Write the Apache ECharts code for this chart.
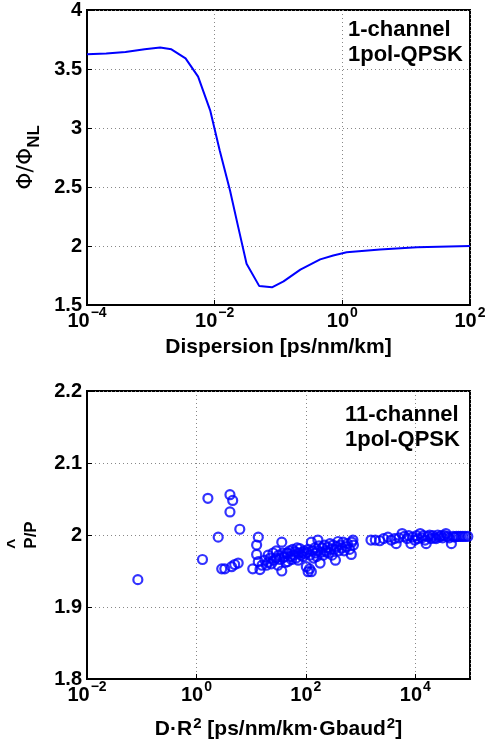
<!DOCTYPE html>
<html>
<head>
<meta charset="utf-8">
<script src="https://cdn.jsdelivr.net/npm/echarts@6/dist/echarts.min.js"></script>
<style>
html,body{margin:0;padding:0;background:#fff;}
#chart{width:495px;height:744px;}
</style>
</head>
<body>
<div id="chart"></div>
<script>
// ---- Top panel: Phi/Phi_NL vs dispersion ----
const dispersion = [0.0001, 0.0002, 0.0004, 0.0008, 0.0014, 0.0021, 0.0035, 0.0055, 0.0085, 0.012, 0.0174, 0.0234, 0.0316, 0.05, 0.079, 0.12, 0.22, 0.45, 0.72, 1.17, 3.9, 14.8, 100];
const phiRatio   = [3.625, 3.632, 3.645, 3.668, 3.683, 3.667, 3.59, 3.435, 3.15, 2.81, 2.47, 2.16, 1.85, 1.66, 1.65, 1.70, 1.80, 1.887, 1.92, 1.947, 1.97, 1.99, 2.0];

// ---- Bottom panel: P^/P vs D*R^2 ----
const drSquared = [
  0.085, 1.29, 1.62, 2.5, 2.9, 3.3, 4.4, 5.0, 5.8, 4.1, 4.6, 4.1, 6.2,
  10.7, 12.6, 12.6, 13.5, 13.5, 14.5, 15.8, 17.8, 19, 20.4, 20.4, 22.4, 23.4, 25.1, 26.3, 28.8, 28.8, 30.9,
  31.6, 33.9, 36.3, 36.3, 38, 39.8, 40.7, 42.7, 44.7, 46.8, 46.8, 50.1, 52.5, 55, 57.5, 60.3, 63.1, 66.1,
  69.2, 72.4, 74.1, 77.6, 81.3, 85.1, 89.1, 93.3, 97.7, 102, 105, 110, 110, 117, 120, 126, 126, 132, 138,
  145, 151, 158, 166, 166, 174, 182, 191, 200, 209, 219, 229, 240, 251, 263, 275, 288, 302, 316, 331, 347,
  363, 389, 398, 427, 457, 479, 501, 550, 575, 631, 676, 692, 724, 741,
  1550, 1860, 2240, 2630, 3160, 3630, 4170, 4470, 5010, 5750, 6310, 7080, 7590, 8320, 8910, 9770,
  10500, 11200, 12300, 13200, 14100, 15100, 15800, 17000, 18200, 19500, 20900, 22400, 24000, 25700,
  27500, 29500, 31600, 33900, 36300, 38900, 41700, 45700, 49000, 52500, 56200, 61700, 67600, 74100, 81300, 91200
];
const powerRatio = [
  1.938, 1.966, 2.051, 1.997, 1.953, 1.953, 1.956, 1.959, 1.961, 2.056, 2.048, 2.032, 2.008,
  1.953, 1.986, 1.973, 1.997, 1.963, 1.952, 1.958, 1.965, 1.958, 1.972, 1.962, 1.968, 1.960, 1.975, 1.965, 1.978, 1.968, 1.958,
  1.972, 1.966, 1.990, 1.950, 1.975, 1.969, 1.970, 1.962, 1.975, 1.963, 1.975, 1.978, 1.970, 1.966, 1.980, 1.972, 1.977, 1.968,
  1.982, 1.965, 1.975, 1.981, 1.972, 1.976, 1.970, 1.978, 1.974, 1.956, 1.976, 1.949, 1.980, 1.953, 1.972, 1.990, 1.949, 1.978, 1.968,
  1.982, 1.975, 1.970, 1.993, 1.978, 1.985, 1.961, 1.976, 1.982, 1.972, 1.986, 1.978, 1.976, 1.983, 1.975, 1.988, 1.980, 1.972, 1.986, 1.980, 1.965,
  1.984, 1.991, 1.978, 1.986, 1.982, 1.990, 1.978, 1.984, 1.988, 1.980, 1.973, 1.990, 1.993, 1.986,
  1.993, 1.993, 1.992, 1.995, 1.997, 1.993, 1.995, 1.988, 1.996, 2.002, 1.998, 1.995, 1.999, 1.988, 1.997, 1.993,
  1.999, 1.995, 2.002, 1.996, 1.999, 1.993, 1.988, 1.998, 2.000, 1.995, 1.999, 1.996, 1.995, 2.000,
  1.997, 1.999, 1.996, 1.999, 2.002, 1.998, 1.996, 1.988, 1.998, 1.997, 1.998, 1.998, 1.998, 1.998, 1.998, 1.998
];

// tick settings
const topYTicks = {min: 1.5, max: 4, step: 0.5};
const botYTicks = {min: 1.8, max: 2.2, step: 0.1};
const topLabel1 = '1-channel\n1pol-QPSK';
const botLabel1 = '11-channel\n1pol-QPSK';

const FONT = 'Liberation Sans, Arial, Helvetica, sans-serif';

const powRich = {
  b: {fontSize: 20, fontWeight: 'bold', fontFamily: FONT, color: '#000', verticalAlign: 'bottom'},
  s: {fontSize: 14, fontWeight: 'bold', fontFamily: FONT, color: '#000', verticalAlign: 'bottom', padding: [0, 0, 11, 1]}
};
function powFmt(v) {
  const e = Math.round(Math.log10(v));
  return '{b|10}{s|' + (e < 0 ? '\u2212' + (-e) : String(e)) + '}';
}

function logX(grid, min, max, name, nameRich, showMax, gap) {
  return {
    type: 'log', logBase: 10, gridIndex: grid, min: min, max: max, interval: 2,
    name: name, nameLocation: 'middle', nameGap: gap,
    nameTextStyle: {rich: nameRich},
    axisLine: {show: true, onZero: false, lineStyle: {color: '#000', width: 2}},
    axisTick: {show: true, inside: true, length: 5, lineStyle: {color: '#000', width: 1}},
    minorTick: {show: false},
    axisLabel: {formatter: powFmt, rich: powRich, margin: 1, showMaxLabel: showMax, showMinLabel: true},
    splitLine: {show: true, lineStyle: {color: '#888', width: 1, type: [1, 3]}}
  };
}
function linY(grid, t, name, nameRich, gap) {
  return {
    type: 'value', gridIndex: grid, min: t.min, max: t.max, interval: t.step,
    name: name, nameLocation: 'middle', nameGap: gap, nameRotate: 90,
    nameTextStyle: {rich: nameRich},
    axisLine: {show: true, onZero: false, lineStyle: {color: '#000', width: 2}},
    axisTick: {show: true, inside: true, length: 5, lineStyle: {color: '#000', width: 1}},
    axisLabel: {fontSize: 20, fontWeight: 'bold', fontFamily: FONT, color: '#000', margin: 5},
    splitLine: {show: true, lineStyle: {color: '#888', width: 1, type: [1, 3]}}
  };
}

const chart = echarts.init(document.getElementById('chart'), null, {renderer: 'canvas'});
chart.setOption({
  animation: false,
  backgroundColor: '#fff',
  grid: [
    {left: 87, top: 10, width: 383, height: 295, containLabel: false, outerBoundsMode: 'none',
     show: true, borderColor: '#000', borderWidth: 2, backgroundColor: 'transparent'},
    {left: 87, top: 391, width: 383, height: 288, containLabel: false, outerBoundsMode: 'none',
     show: true, borderColor: '#000', borderWidth: 2, backgroundColor: 'transparent'}
  ],
  xAxis: [
    logX(0, 0.0001, 100, '{t|Dispersion [ps/nm/km]}',
      {t: {fontSize: 21, fontWeight: 'bold', fontFamily: FONT, color: '#000'}}, true, 32),
    logX(1, 0.01, 100000, '{t|D\u00b7R}{u|2}{t| [ps/nm/km\u00b7Gbaud}{u|2}{t|]}',
      {t: {fontSize: 21, fontWeight: 'bold', fontFamily: FONT, color: '#000', verticalAlign: 'bottom'},
       u: {fontSize: 15, fontWeight: 'bold', fontFamily: FONT, color: '#000', verticalAlign: 'bottom', padding: [0, 0, 9, 1]}}, false, 37)
  ],
  yAxis: [
    linY(0, topYTicks, '{a|\u03a6/\u03a6}{b|NL}', {
      a: {fontSize: 22, fontFamily: 'DejaVu Sans, ' + FONT, color: '#000', verticalAlign: 'bottom', padding: [0, 0, 6, 0]},
      b: {fontSize: 17, fontWeight: 'bold', fontFamily: FONT, color: '#000', verticalAlign: 'bottom'}
    }, 36),
    linY(1, botYTicks, '{h|^}\n{p|P/P}', {
      h: {fontSize: 18, fontWeight: 'bold', fontFamily: FONT, color: '#000', width: 28, align: 'left', lineHeight: 14},
      p: {fontSize: 17, fontWeight: 'bold', fontFamily: FONT, color: '#000', width: 28, align: 'center', lineHeight: 18}
    }, 47)
  ],
  series: [
    {
      type: 'line', xAxisIndex: 0, yAxisIndex: 0,
      data: dispersion.map((x, i) => [x, phiRatio[i]]),
      showSymbol: false, smooth: false,
      lineStyle: {color: '#0000ff', width: 2}
    },
    {
      type: 'scatter', xAxisIndex: 1, yAxisIndex: 1,
      data: drSquared.map((x, i) => [x, powerRatio[i]]),
      symbol: 'circle', symbolSize: 9,
      itemStyle: {color: 'rgba(255,255,255,0)', borderColor: '#0000ff', borderWidth: 2.2}
    }
  ],
  graphic: [
    {type: 'text', left: 348, top: 17, z: 100,
     style: {text: topLabel1, font: 'bold 22px ' + FONT, fill: '#000', lineHeight: 25}},
    {type: 'text', left: 345, top: 402, z: 100,
     style: {text: botLabel1, font: 'bold 22px ' + FONT, fill: '#000', lineHeight: 25}}
  ]
});
</script>
</body>
</html>
